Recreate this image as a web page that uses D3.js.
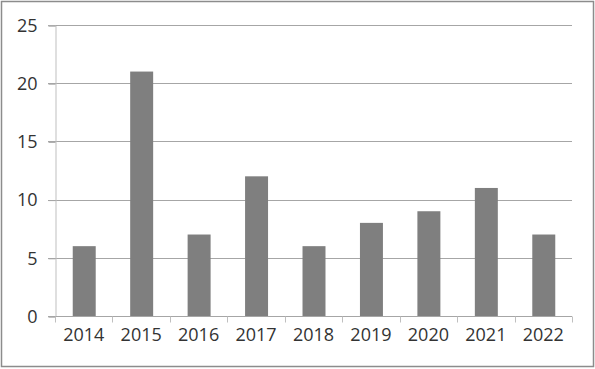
<!DOCTYPE html>
<html lang="en">
<head>
<meta charset="UTF-8">
<title>Bar chart 2014-2022</title>
<style>
  body { margin: 0; background: #ffffff; }
  svg { display: block; }
  .tick text { font-family: 'Open Sans', 'Liberation Sans', Arial, sans-serif; font-size: 18px; fill: #333333; }
</style>
</head>
<body>
<div id="chart"></div>
<script src="https://d3js.org/d3.v7.min.js"></script>
<script>
  // chart data
  const years = ["2014", "2015", "2016", "2017", "2018", "2019", "2020", "2021", "2022"];
  const counts = [6, 21, 7, 12, 6, 8, 9, 11, 7];
  const yTicks = [0, 5, 10, 15, 20, 25];

  const W = 595, H = 369;
  const plot = { left: 55, right: 572, top: 25, bottom: 316 };

  const svg = d3.select("#chart").append("svg")
    .attr("width", W)
    .attr("height", H);

  // outer frame
  svg.append("rect")
    .attr("x", 1.5).attr("y", 1.5)
    .attr("width", 592).attr("height", 365)
    .attr("fill", "none")
    .attr("stroke", "#8c8c8c")
    .attr("stroke-width", 1.5);

  const x = d3.scaleBand().domain(years).range([plot.left, plot.right]).padding(0);
  const y = d3.scaleLinear().domain([0, 25]).range([plot.bottom, plot.top]);

  // gridlines
  svg.append("g")
    .selectAll("line")
    .data(yTicks.filter(d => d > 0))
    .join("line")
    .attr("x1", plot.left - 7).attr("x2", plot.right)
    .attr("y1", d => Math.round(y(d)) + 0.5).attr("y2", d => Math.round(y(d)) + 0.5)
    .attr("stroke", "#a6a6a6");

  // y axis
  const yAxis = svg.append("g")
    .attr("transform", `translate(${plot.left + 0.5},0.5)`)
    .call(d3.axisLeft(y).tickValues(yTicks).tickSize(7).tickPadding(11));
  yAxis.select(".domain").attr("stroke", "#bfbfbf");
  yAxis.selectAll(".tick line").attr("stroke", "#a6a6a6");

  // bars
  const barW = x.step() * 0.4;
  svg.append("g")
    .selectAll("rect")
    .data(years.map((yr, i) => ({ yr, v: counts[i] })))
    .join("rect")
    .attr("x", d => x(d.yr) + (x.step() - barW) / 2 + 0.5)
    .attr("y", d => y(d.v))
    .attr("width", barW)
    .attr("height", d => y(0) - y(d.v))
    .attr("fill", "#7f7f7f");

  // x axis: baseline + ticks at category boundaries
  const xAxis = svg.append("g")
    .attr("transform", `translate(0,${plot.bottom + 0.5})`)
    .call(d3.axisBottom(x).tickSize(0).tickPadding(12));
  xAxis.select(".domain").remove();
  xAxis.append("line")
    .attr("x1", plot.left - 7).attr("x2", plot.right)
    .attr("stroke", "#a6a6a6");
  xAxis.selectAll(".sep")
    .data(years.concat(["end"]))
    .join("line")
    .attr("class", "sep")
    .attr("x1", (d, i) => Math.round(plot.left + i * x.step()) + 0.5)
    .attr("x2", (d, i) => Math.round(plot.left + i * x.step()) + 0.5)
    .attr("y1", 0).attr("y2", 6)
    .attr("stroke", "#bfbfbf");
</script>
</body>
</html>
